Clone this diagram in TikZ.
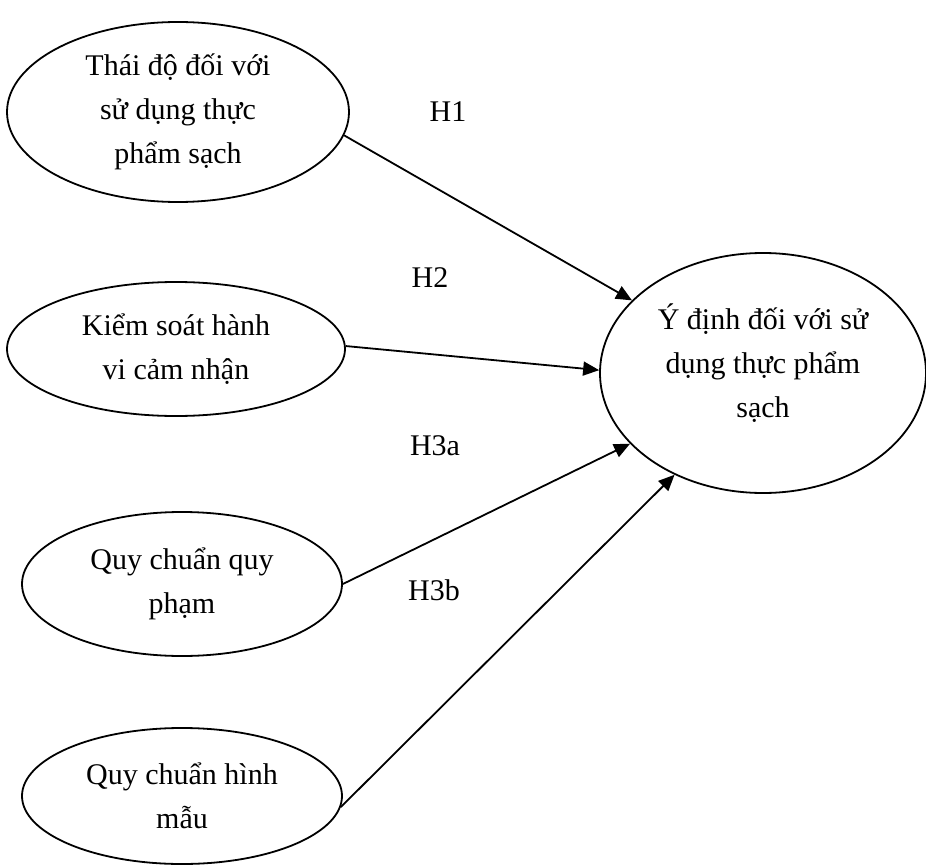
\documentclass[tikz,border=0pt]{standalone}
\usepackage{fontspec}
\setmainfont{Liberation Serif}
\usetikzlibrary{shapes.geometric,arrows.meta}

\begin{document}
\begin{tikzpicture}[x=0.5pt, y=-0.5pt,
    factor/.style={draw, ellipse, line width=0.9pt, inner sep=0pt, align=center,
        font=\fontsize{15}{22}\selectfont},
    hypo/.style={font=\fontsize{15}{22}\selectfont},
    path/.style={line width=0.9pt, -{Triangle[length=8pt, width=7pt]}}]
    \useasboundingbox (0,0) rectangle (926,866);

    % Antecedents
    \node[factor, minimum width=171pt, minimum height=90pt] (attitude) at (178,112)
        {Thái độ đối với\\sử dụng thực\\phẩm sạch};
    \node[factor, minimum width=169pt, minimum height=67pt] (control) at (176,349)
        {Kiểm soát hành\\vi cảm nhận};
    \node[factor, minimum width=160pt, minimum height=72pt] (norm) at (182,584)
        {Quy chuẩn quy\\phạm};
    \node[factor, minimum width=160pt, minimum height=68pt] (model) at (182,796)
        {Quy chuẩn hình\\mẫu};

    % Outcome
    \node[factor, minimum width=163pt, minimum height=120pt] (intent) at (763,373)
        {Ý định đối với sử\\dụng thực phẩm\\sạch\\[-10pt]\mbox{}};

    % Hypothesised paths
    \draw[path] (attitude.-8) -- (intent.151);
    \draw[path] (control.1) -- (intent.179);
    \draw[path] (norm.0) -- (intent.208);
    \draw[path] (model.-4) -- (intent.229);

    % Labels
    \node[hypo] (h1) at (448,112) {H1};
    \node[hypo] (h2) at (430,278) {H2};
    \node[hypo] (h3a) at (435,446) {H3a};
    \node[hypo] (h3b) at (434,590) {H3b};
\end{tikzpicture}
\end{document}
